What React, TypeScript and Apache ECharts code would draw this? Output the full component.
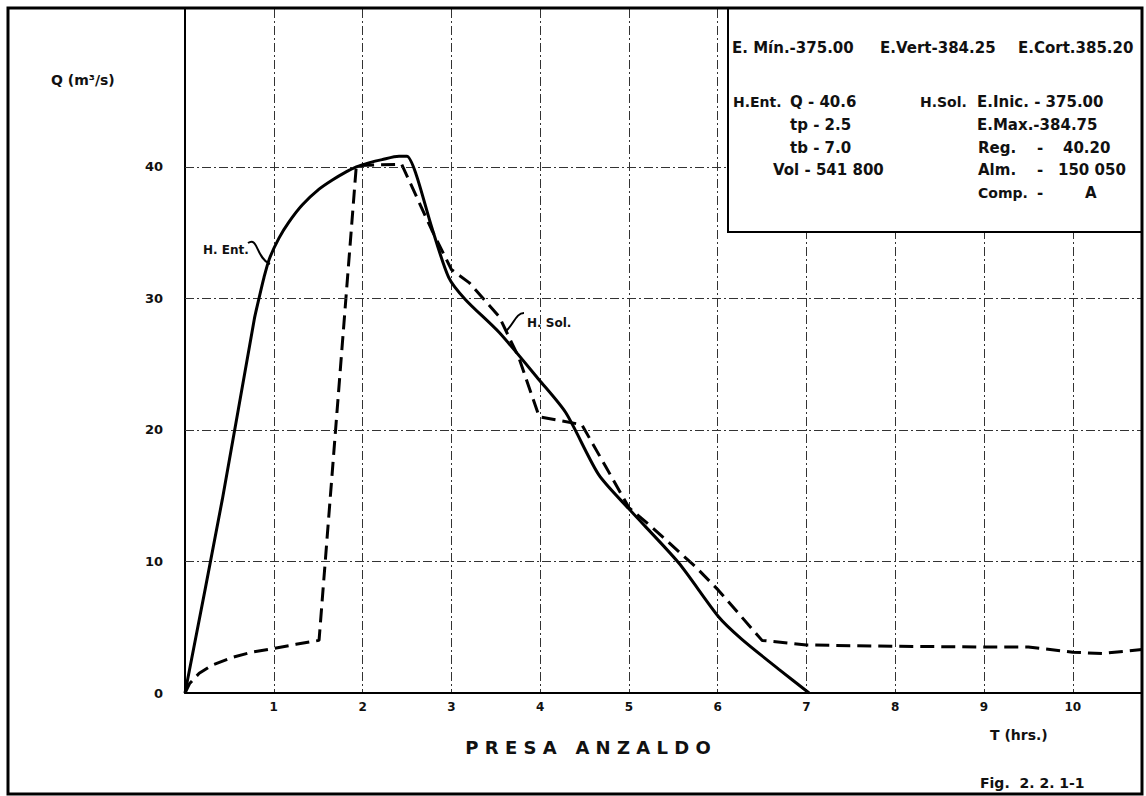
import React, { useEffect, useRef } from "react";
import * as echarts from "echarts";

// H. Ent. (inflow hydrograph, solid)
const inflowT = [0, 0.42, 0.78, 0.83, 0.89, 0.95, 1.06, 1.17, 1.32, 1.51, 1.66, 1.81, 1.93, 2.07, 2.22, 2.41, 2.5, 2.6, 2.78, 2.97, 3.16, 3.54, 3.99, 4.29, 4.66, 5.0, 5.56, 6.01, 6.27, 6.69, 7.03];
const inflowQ = [0, 14.7, 28.4, 29.9, 31.6, 33.0, 34.6, 35.8, 37.1, 38.3, 39.0, 39.6, 40.0, 40.3, 40.55, 40.8, 40.8, 39.5, 35.4, 31.6, 29.9, 27.4, 23.8, 21.3, 16.6, 14.0, 9.9, 5.8, 4.1, 1.8, 0];

// H. Sal. (outflow hydrograph, dashed)
const outflowT = [0, 0.05, 0.16, 0.3, 0.53, 0.75, 1.01, 1.25, 1.51, 1.93, 2.44, 2.78, 3.0, 3.2, 3.54, 3.76, 3.99, 4.47, 4.74, 5.0, 5.26, 5.75, 6.01, 6.5, 7.0, 8.0, 9.0, 9.5, 10.0, 10.33, 10.78];
const outflowQ = [0, 0.7, 1.5, 2.1, 2.7, 3.1, 3.4, 3.7, 4.0, 40.1, 40.2, 35.2, 32.2, 31.2, 28.6, 25.5, 21.0, 20.4, 17.2, 14.1, 12.6, 9.6, 7.8, 4.0, 3.65, 3.55, 3.5, 3.5, 3.1, 3.0, 3.3];

const xTickLabels = [1, 2, 3, 4, 5, 6, 7, 8, 9, 10];
const yTickLabels = [0, 10, 20, 30, 40];
const yGridLines = [10, 20, 30, 40];

const FONT = '"DejaVu Sans", sans-serif';

function txt(text: string, x: number, y: number, size = 15, align = "left") {
  return {
    type: "text",
    x,
    y,
    z: 110,
    style: {
      text,
      fill: "#111",
      font: `bold ${size}px ${FONT}`,
      align,
      textAlign: align,
      verticalAlign: "middle",
      textVerticalAlign: "middle",
    },
  };
}

export default function App() {
  const ref = useRef<HTMLDivElement>(null);

  useEffect(() => {
    const chart = echarts.init(ref.current!, null, { renderer: "svg" });
    const gridStyle = { color: "#333", width: 1, type: [9, 3, 2, 3] };

    chart.setOption({
      animation: false,
      backgroundColor: "#fff",
      grid: { left: 185, right: 4, top: 9, bottom: 103, containLabel: false },
      xAxis: {
        type: "value",
        min: 0,
        max: 10.78,
        interval: 1,
        axisLine: { show: true, lineStyle: { color: "#000", width: 2 } },
        axisTick: { show: false },
        axisLabel: {
          margin: 8,
          color: "#111",
          fontFamily: FONT,
          fontWeight: "bold",
          fontSize: 12,
          formatter: (v: number) => (xTickLabels.includes(v) ? String(v) : ""),
        },
        splitLine: { show: true, lineStyle: gridStyle },
      },
      yAxis: {
        type: "value",
        min: 0,
        max: 52,
        interval: 10,
        axisLine: { show: true, lineStyle: { color: "#000", width: 2 } },
        axisTick: { show: false },
        axisLabel: {
          margin: 22,
          color: "#111",
          fontFamily: FONT,
          fontWeight: "bold",
          fontSize: 13,
          formatter: (v: number) => (yTickLabels.includes(v) ? String(v) : ""),
        },
        splitLine: { show: false },
      },
      series: [
        {
          name: "H. Ent.",
          type: "line",
          data: inflowT.map((t, i) => [t, inflowQ[i]]),
          showSymbol: false,
          smooth: 0.25,
          lineStyle: { color: "#000", width: 3 },
          z: 5,
          markLine: {
            silent: true,
            symbol: ["none", "none"],
            label: { show: false },
            lineStyle: gridStyle,
            data: yGridLines.map((v) => ({ yAxis: v })),
          },
        },
        {
          name: "H. Sal.",
          type: "line",
          data: outflowT.map((t, i) => [t, outflowQ[i]]),
          showSymbol: false,
          lineStyle: { color: "#000", width: 3, type: [14, 7] },
          z: 4,
        },
      ],
      graphic: [
        // outer frame
        {
          type: "rect",
          z: 120,
          shape: { x: 8, y: 8, width: 1134, height: 786 },
          style: { fill: "none", stroke: "#000", lineWidth: 3 },
        },
        // info box
        {
          type: "rect",
          z: 100,
          shape: { x: 728, y: 8, width: 414, height: 224 },
          style: { fill: "#fff", stroke: "#000", lineWidth: 2 },
        },
        txt("E. Mín.-375.00", 732, 48),
        txt("E.Vert-384.25", 880, 48),
        txt("E.Cort.385.20", 1018, 48),
        txt("H.Ent.", 733, 102, 14),
        txt("Q - 40.6", 790, 102),
        txt("tp - 2.5", 790, 125),
        txt("tb - 7.0", 790, 148),
        txt("Vol - 541 800", 773, 170),
        txt("H.Sol.", 920, 102, 14),
        txt("E.Inic. - 375.00", 977, 102),
        txt("E.Max.-384.75", 977, 125),
        txt("Reg.", 978, 148),
        txt("-", 1037, 148),
        txt("40.20", 1063, 148),
        txt("Alm.", 978, 170),
        txt("-", 1037, 170),
        txt("150 050", 1058, 170),
        txt("Comp.", 978, 193, 14),
        txt("-", 1037, 193),
        txt("A", 1085, 193),
        // axis titles
        txt("Q (m³/s)", 51, 80, 14),
        txt("T (hrs.)", 990, 735, 14),
        txt("P R E S A   A N Z A L D O", 588, 747, 18, "center"),
        txt("Fig.  2. 2. 1-1", 980, 783, 14),
        // curve annotations
        txt("H. Ent.", 203, 250, 12),
        {
          type: "bezierCurve",
          z: 110,
          shape: { x1: 248, y1: 243, cpx1: 258, cpy1: 236, cpx2: 256, cpy2: 258, x2: 270, y2: 264 },
          style: { stroke: "#000", lineWidth: 2, fill: "none" },
        },
        txt("H. Sol.", 527, 323, 12),
        {
          type: "bezierCurve",
          z: 110,
          shape: { x1: 524, y1: 313, cpx1: 516, cpy1: 313, cpx2: 514, cpy2: 324, x2: 506, y2: 331 },
          style: { stroke: "#000", lineWidth: 2, fill: "none" },
        },
      ],
    });

    return () => chart.dispose();
  }, []);

  return (
    <div
      ref={ref}
      style={{ position: "absolute", left: 0, top: 0, width: 1146, height: 796, background: "#fff" }}
    />
  );
}
